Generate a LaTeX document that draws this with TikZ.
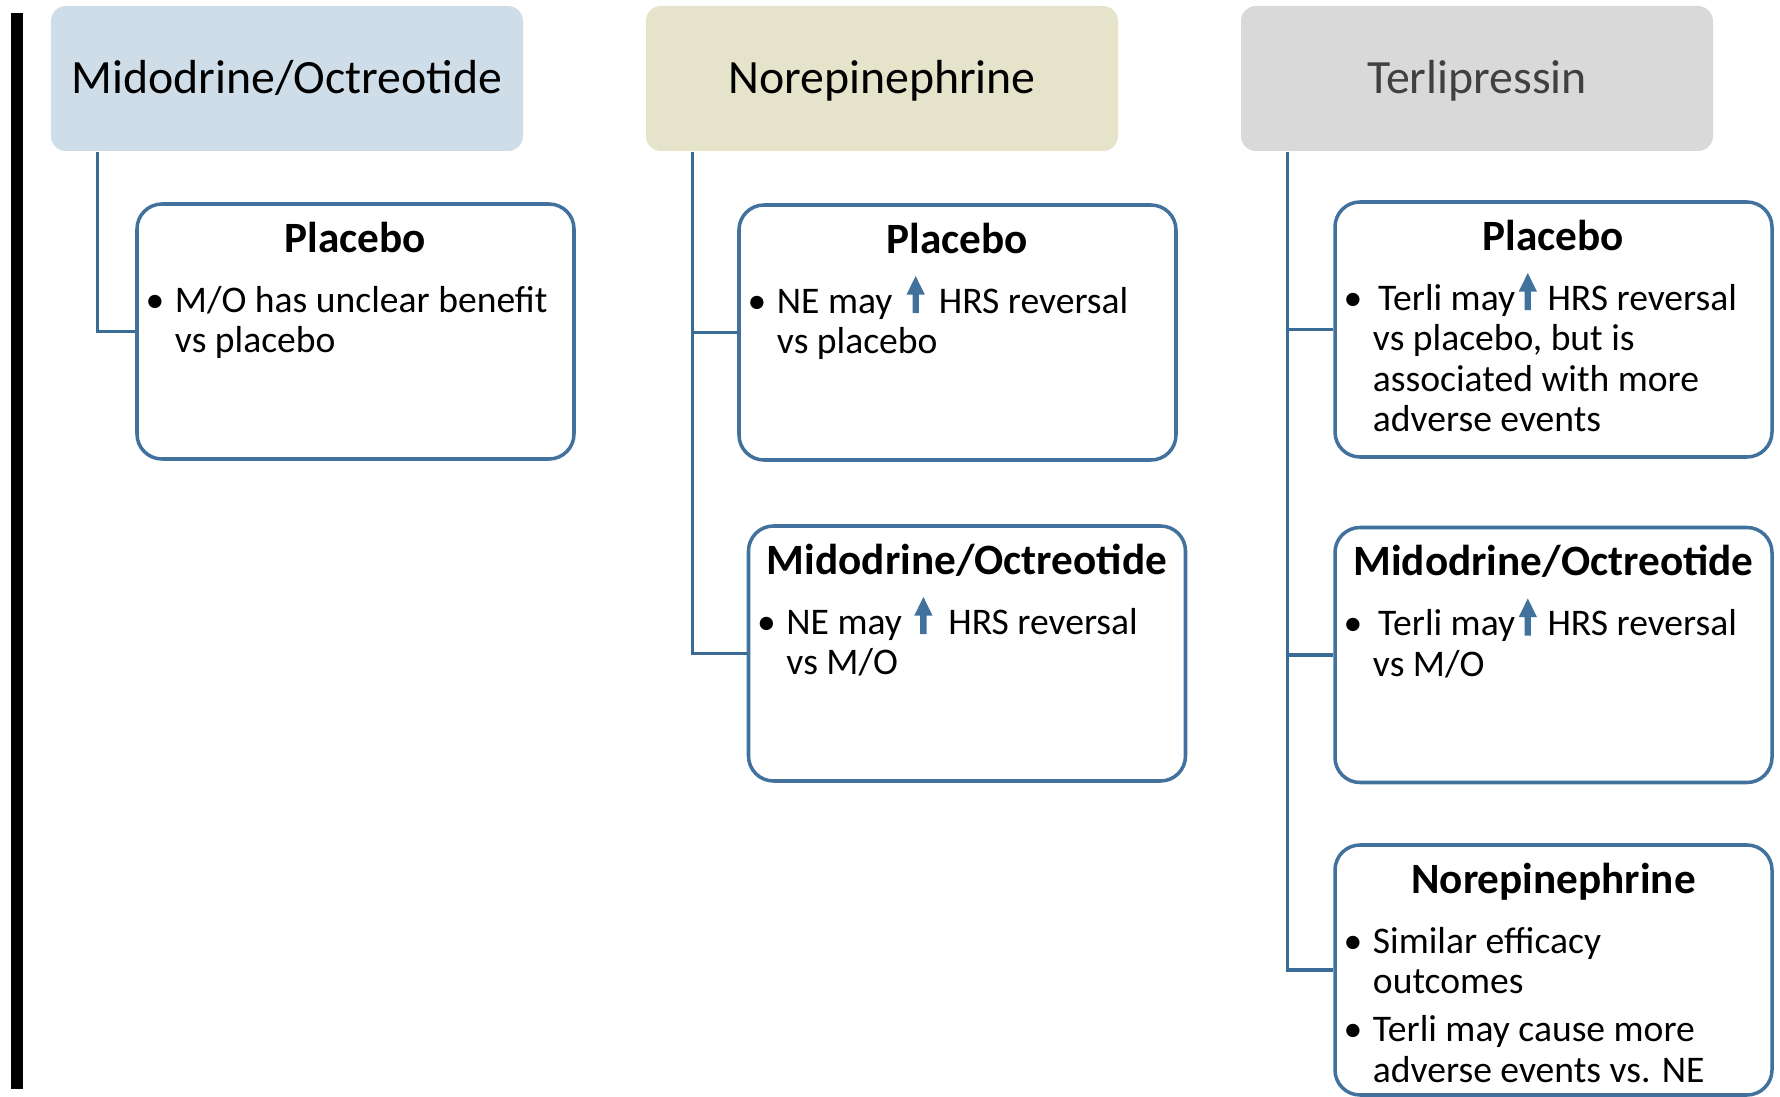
\documentclass[tikz,border=0pt]{standalone}
\usepackage{fontspec}
\setmainfont{Carlito}
\usetikzlibrary{positioning, calc}
\definecolor{hdblue}{HTML}{CFDDE8}
\definecolor{hdolive}{HTML}{E5E4CA}
\definecolor{hdgray}{HTML}{D9D9D9}
\definecolor{hdtext}{HTML}{404040}
\definecolor{boxblue}{HTML}{41719C}
\definecolor{linkblue}{HTML}{3A6A96}
\definecolor{arrowblue}{HTML}{41729D}

% inline block arrow, bullet, top-aligned line block
\newcommand{\uparr}{\tikz[baseline=0pt]\fill[arrowblue] (-0.9pt,0pt) -- (-0.9pt,5.3pt)
  -- (-2.6pt,5.3pt) -- (0pt,10.6pt) -- (2.6pt,5.3pt) -- (0.9pt,5.3pt) -- (0.9pt,0pt) -- cycle;}
\newcommand{\bul}{\leavevmode\llap{\textbullet\hspace{3pt}}}
\newcommand{\toplines}[1]{\parbox[t]{4.2cm}{\raggedright #1}}

\begin{document}
\begin{tikzpicture}[
    % ── shared styles ──
    head box/.style={fill=#1, draw=none, rounded corners=0.15cm,
        minimum width=4.72cm, minimum height=1.45cm, inner sep=0pt,
        text height=0.31cm, text depth=0pt, font=\fontsize{13.6}{16}\selectfont},
    cmp box/.style={draw=boxblue, line width=1pt, fill=white,
        rounded corners=0.25cm, minimum width=4.37cm, minimum height=#1,
        inner sep=0pt},
    cmp box/.default=2.55cm,
    cmp title/.style={font=\fontsize{12.3}{14}\selectfont\bfseries,
        anchor=base, inner sep=0pt},
    cmp text/.style={font=\fontsize{10.7}{11.5}\selectfont, anchor=base west,
        inner sep=0pt},
    link/.style={draw=linkblue, line width=0.9pt},
]
\useasboundingbox (0,0) rectangle (17.80,-10.97);

% ══════════════════════════════════════════════════════════════════════
%  DIMENSIONS
% ══════════════════════════════════════════════════════════════════════
\def\hdy{-0.785}
\def\Ax{2.87}   \def\Bx{8.82}   \def\Cx{14.77}   % header centres
\def\trunk{0.47}                                 % trunk offset from header edge

% side bar
\fill[black] (0.11,-0.13) rectangle (0.23,-10.89);

% ══════════════════════════════════════════════════════════════════════
%  HEADERS
% ══════════════════════════════════════════════════════════════════════
\node[head box=hdblue] (hdMO) at (\Ax,\hdy) {Midodrine/Octreotide};
\node[head box=hdolive] (hdNE) at (\Bx,\hdy) {Norepinephrine};
\node[head box=hdgray, text=hdtext] (hdTP) at (\Cx,\hdy) {Terlipressin};

% ══════════════════════════════════════════════════════════════════════
%  MIDODRINE/OCTREOTIDE
% ══════════════════════════════════════════════════════════════════════
\node[cmp box] (moPla) at (3.555,-3.315) {};
\node[cmp title] (moPlaT) at ([yshift=-0.50cm]moPla.north) {Placebo};
\node[cmp text] (moPlaX) at ([xshift=0.39cm,yshift=-1.10cm]moPla.north west)
    {\toplines{\bul M/O has unclear benefit\\vs placebo}};

% ══════════════════════════════════════════════════════════════════════
%  NOREPINEPHRINE
% ══════════════════════════════════════════════════════════════════════
\node[cmp box] (nePla) at (9.575,-3.325) {};
\node[cmp title] (nePlaT) at ([yshift=-0.50cm]nePla.north) {Placebo};
\node[cmp text] (nePlaX) at ([xshift=0.39cm,yshift=-1.10cm]nePla.north west)
    {\toplines{\bul NE may\hspace{4pt}\uparr\hspace{4pt}HRS reversal\\vs placebo}};

\node[cmp box] (neMO) at (9.67,-6.535) {};
\node[cmp title] (neMOT) at ([yshift=-0.50cm]neMO.north) {Midodrine/Octreotide};
\node[cmp text] (neMOX) at ([xshift=0.39cm,yshift=-1.10cm]neMO.north west)
    {\toplines{\bul NE may\hspace{3.5pt}\uparr\hspace{4.5pt}HRS reversal\\vs M/O}};

% ══════════════════════════════════════════════════════════════════════
%  TERLIPRESSIN
% ══════════════════════════════════════════════════════════════════════
\node[cmp box] (tpPla) at (15.535,-3.295) {};
\node[cmp title] (tpPlaT) at ([yshift=-0.50cm]tpPla.north) {Placebo};
\node[cmp text] (tpPlaX) at ([xshift=0.39cm,yshift=-1.10cm]tpPla.north west)
    {\toplines{\bul\hspace{1.5pt}Terli may\hspace{1pt}\uparr\hspace{3pt}HRS reversal\\vs placebo, but is\\associated with more\\adverse events}};

\node[cmp box] (tpMO) at (15.535,-6.55) {};
\node[cmp title] (tpMOT) at ([yshift=-0.50cm]tpMO.north) {Midodrine/Octreotide};
\node[cmp text] (tpMOX) at ([xshift=0.39cm,yshift=-1.10cm]tpMO.north west)
    {\toplines{\bul\hspace{1.5pt}Terli may\hspace{1pt}\uparr\hspace{3pt}HRS reversal\\vs M/O}};

\node[cmp box=2.50cm] (tpNE) at (15.535,-9.70) {};
\node[cmp title] (tpNET) at ([yshift=-0.50cm]tpNE.north) {Norepinephrine};
\node[cmp text] (tpNEX) at ([xshift=0.39cm,yshift=-1.10cm]tpNE.north west)
    {\toplines{\bul Similar efficacy\\outcomes\\[2.2pt]\bul Terli may cause more\\adverse events vs. NE}};

% ══════════════════════════════════════════════════════════════════════
%  CONNECTORS
% ══════════════════════════════════════════════════════════════════════
\draw[link] ([xshift=\trunk cm]hdMO.south west) |- (moPla.west);
\draw[link] ([xshift=\trunk cm]hdNE.south west) |- (nePla.west);
\draw[link] ([xshift=\trunk cm]hdNE.south west) |- (neMO.west);
\draw[link] ([xshift=\trunk cm]hdTP.south west) |- (tpPla.west);
\draw[link] ([xshift=\trunk cm]hdTP.south west) |- (tpMO.west);
\draw[link] ([xshift=\trunk cm]hdTP.south west) |- (tpNE.west);

\end{tikzpicture}
\end{document}
